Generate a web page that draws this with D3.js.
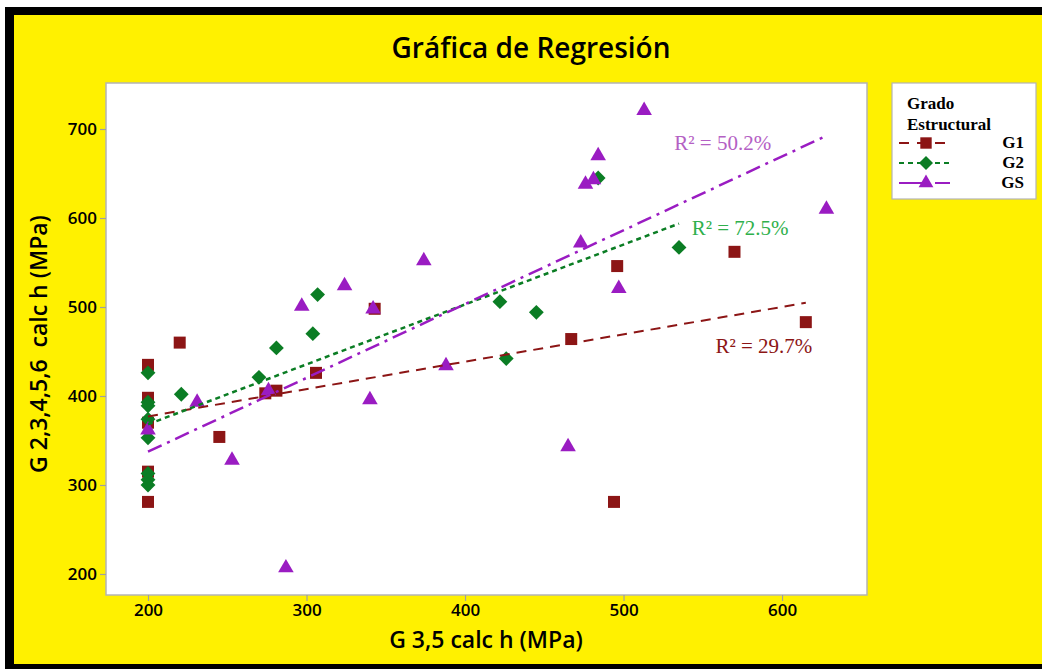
<!DOCTYPE html>
<html>
<head>
<meta charset="utf-8">
<script src="https://cdn.jsdelivr.net/npm/d3@7"></script>
<style>
  html, body { margin: 0; padding: 0; background: #fff; }
  svg { display: block; }
</style>
</head>
<body>
<svg id="chart" width="1042" height="669"></svg>
<script>
// data (G 3,5 vs G 2,3,4,5,6, MPa)
var g1X = [200, 200, 200, 200, 200, 220, 245, 274, 281, 306, 343, 467, 496, 494, 570, 615];
var g1Y = [435, 398, 370, 315, 281, 460, 354, 403, 406, 426, 498, 464, 546, 281, 562, 483];

var g2X = [200, 200, 200, 200, 200, 200, 200, 200, 221, 270, 281, 304, 307, 422, 445, 426, 484, 535];
var g2Y = [426, 393, 389, 374, 353, 313, 306, 300, 402, 421, 454, 470, 514, 506, 494, 442, 645, 567];

var gsX = [200, 231, 253, 276, 287, 297, 324, 340, 342, 374, 388, 465, 473, 476, 481, 484, 497, 513, 628];
var gsY = [363, 394, 329, 407, 208, 502, 525, 397, 499, 553, 435, 344, 573, 639, 644, 671, 522, 722, 611];

var groups = ['G1', 'G2', 'GS'];
var r2Labels = ['R\u00B2 = 29.7%', 'R\u00B2 = 72.5%', 'R\u00B2 = 50.2%'];
var r2Pos = [[558, 448], [543, 581], [532, 676]];   // label anchors in data units

var xTicks = [200, 300, 400, 500, 600];
var yTicks = [200, 300, 400, 500, 600, 700];

var W = 1042, H = 669;
var plot = {left: 106, top: 83, right: 867, bottom: 595};

var svg = d3.select('#chart');

// outer frame: black band then yellow
svg.append('rect').attr('x', 5).attr('y', 7).attr('width', W - 5).attr('height', H - 7).attr('fill', '#000');
svg.append('rect').attr('x', 14).attr('y', 15).attr('width', W - 14).attr('height', 649).attr('fill', '#fff100');

var x = d3.scaleLinear().domain([173.5, 653.6]).range([plot.left, plot.right]);
var y = d3.scaleLinear().domain([176.4, 751.7]).range([plot.bottom, plot.top]);

svg.append('rect')
  .attr('x', plot.left).attr('y', plot.top)
  .attr('width', plot.right - plot.left).attr('height', plot.bottom - plot.top)
  .attr('fill', '#fff').attr('stroke', '#b4b4b4').attr('stroke-width', 1.5);

// axes
var tickFont = '"Open Sans", sans-serif';
var xAxis = svg.append('g')
  .attr('transform', 'translate(0,' + plot.bottom + ')')
  .call(d3.axisBottom(x).tickValues(xTicks).tickSize(6).tickPadding(3));
var yAxis = svg.append('g')
  .attr('transform', 'translate(' + plot.left + ',0)')
  .call(d3.axisLeft(y).tickValues(yTicks).tickSize(6).tickPadding(3));

[xAxis, yAxis].forEach(function(a) {
  a.select('.domain').remove();
  a.selectAll('line').attr('stroke', '#a0a0a0').attr('stroke-width', 1.2);
  a.selectAll('text').attr('fill', '#000').style('font-family', tickFont)
    .style('font-size', '17px').style('font-weight', 600);
});

// title and axis titles
svg.append('text').attr('x', 531).attr('y', 58).attr('text-anchor', 'middle')
  .style('font-family', tickFont).style('font-size', '28px').style('font-weight', 600)
  .text('Gráfica de Regresión');

svg.append('text').attr('x', 486).attr('y', 648).attr('text-anchor', 'middle')
  .style('font-family', tickFont).style('font-size', '23px').style('font-weight', 600)
  .text('G 3,5 calc h (MPa)');

svg.append('text').attr('transform', 'translate(47,344) rotate(-90)').attr('text-anchor', 'middle')
  .attr('xml:space', 'preserve')
  .style('white-space', 'pre')
  .style('font-family', tickFont).style('font-size', '23px').style('font-weight', 600)
  .text('G 2,3,4,5,6  calc h (MPa)');

// series styling
var colors = ['#8c1515', '#0b7d24', '#9a1cc2'];
var lineColors = ['#8c1515', '#0b7d24', '#9a1cc2'];
var labelColors = ['#8c1515', '#2fb04c', '#b460c4'];
var dashes = ['10,7', '5,4', '15,6,3,6'];
var lineWidths = [2, 2.5, 2.5];
var symbols = [d3.symbolSquare, d3.symbolSquare, d3.symbolTriangle];
var symSizes = [144, 110, 105];
var rotations = [0, 45, 0];
var yShift = [0, 0, 1];

var series = [
  g1X.map(function(v, i) { return [v, g1Y[i]]; }),
  g2X.map(function(v, i) { return [v, g2Y[i]]; }),
  gsX.map(function(v, i) { return [v, gsY[i]]; })
];

// least-squares fit over the data range of each group
function fit(pts) {
  var mx = d3.mean(pts, function(d) { return d[0]; });
  var my = d3.mean(pts, function(d) { return d[1]; });
  var sxy = d3.sum(pts, function(d) { return (d[0] - mx) * (d[1] - my); });
  var sxx = d3.sum(pts, function(d) { return (d[0] - mx) * (d[0] - mx); });
  var b = sxy / sxx, a = my - b * mx;
  var ext = d3.extent(pts, function(d) { return d[0]; });
  return ext.map(function(v) { return [v, a + b * v]; });
}

var line = d3.line().x(function(d) { return x(d[0]); }).y(function(d) { return y(d[1]); });

// points first, fitted lines drawn on top
series.forEach(function(pts, i) {
  var sym = d3.symbol().type(symbols[i]).size(symSizes[i]);
  svg.append('g').selectAll('path')
    .data(pts)
    .enter()
    .append('path')
    .attr('d', sym)
    .attr('transform', function(d) {
      return 'translate(' + x(d[0]) + ',' + (y(d[1]) + yShift[i]) + ') rotate(' + rotations[i] + ')';
    })
    .attr('fill', colors[i]);
});

series.forEach(function(pts, i) {
  svg.append('path')
    .attr('d', line(fit(pts)))
    .attr('fill', 'none')
    .attr('stroke', lineColors[i])
    .attr('stroke-width', lineWidths[i])
    .attr('stroke-dasharray', dashes[i]);

  svg.append('text')
    .attr('x', x(r2Pos[i][0])).attr('y', y(r2Pos[i][1]))
    .attr('fill', labelColors[i])
    .style('font-family', '"Liberation Serif", "Times New Roman", serif')
    .style('font-size', '21px')
    .text(r2Labels[i]);
});

// legend
var lg = svg.append('g');
lg.append('rect').attr('x', 892).attr('y', 83).attr('width', 144).attr('height', 116)
  .attr('fill', '#fff').attr('stroke', '#b4b4b4').attr('stroke-width', 1.2);
var serif = '"Liberation Serif", "Times New Roman", serif';
lg.append('text').attr('x', 907).attr('y', 109).style('font-family', serif)
  .style('font-size', '17px').style('font-weight', 700).text('Grado');
lg.append('text').attr('x', 907).attr('y', 130).style('font-family', serif)
  .style('font-size', '17px').style('font-weight', 700).text('Estructural');

groups.forEach(function(g, i) {
  var ly = 143 + i * 20;
  lg.append('line').attr('x1', 899).attr('x2', 950).attr('y1', ly).attr('y2', ly)
    .attr('stroke', lineColors[i]).attr('stroke-width', 2)
    .attr('stroke-dasharray', i === 0 ? '10,8' : i === 1 ? '5,4' : '28,8');
  lg.append('path')
    .attr('d', d3.symbol().type(symbols[i]).size(symSizes[i] * 0.9))
    .attr('transform', 'translate(926,' + ly + ') rotate(' + rotations[i] + ')')
    .attr('fill', colors[i]);
  lg.append('text').attr('x', 1024).attr('y', ly + 5).attr('text-anchor', 'end')
    .style('font-family', serif).style('font-size', '17px').style('font-weight', 700)
    .text(g);
});
</script>
</body>
</html>
